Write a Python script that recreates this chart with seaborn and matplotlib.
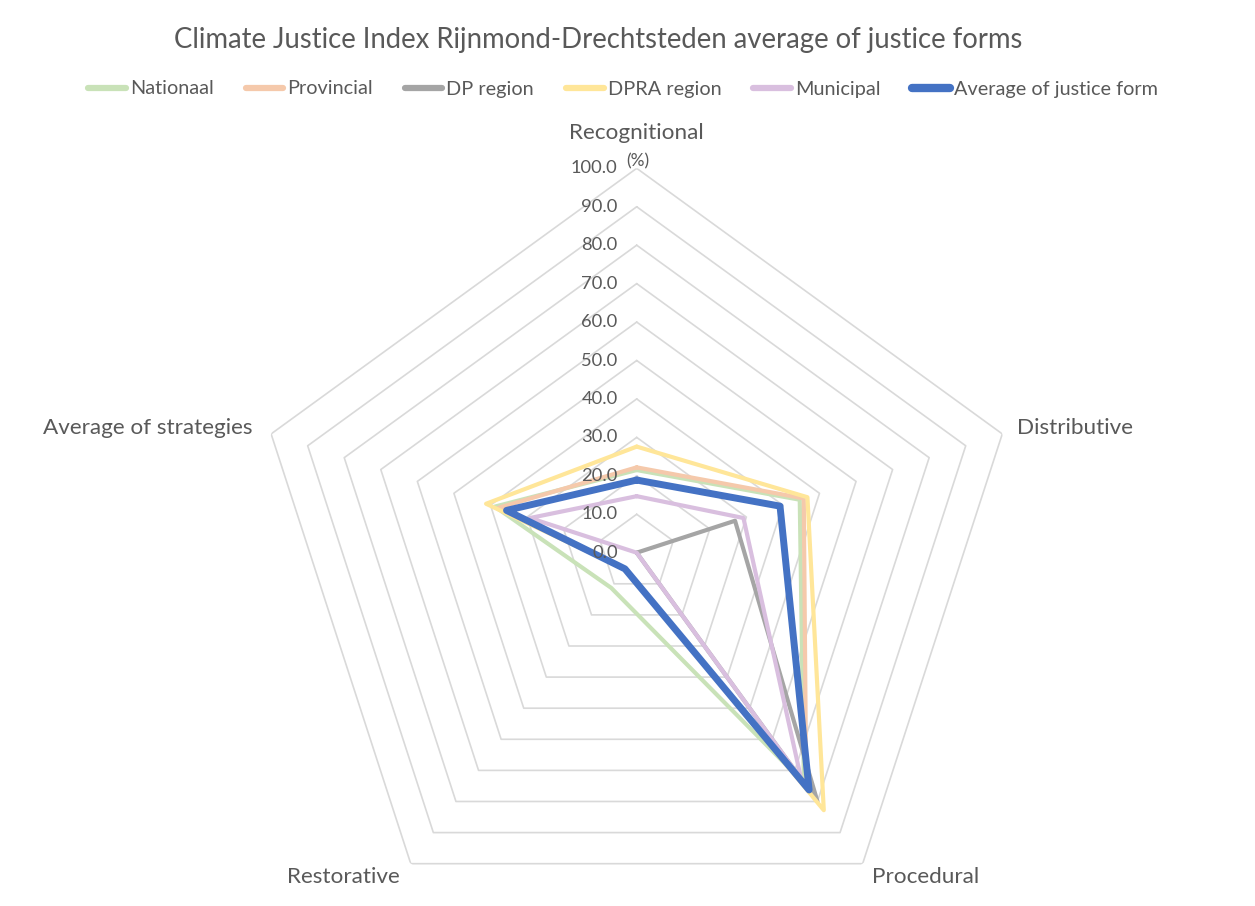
import numpy as np
import pandas as pd
import matplotlib
matplotlib.use("Agg")
import matplotlib.pyplot as plt
import matplotlib.transforms as mtransforms
from matplotlib.lines import Line2D
import seaborn as sns

# ---------------- data ----------------
axes_labels = ["Recognitional", "Distributive", "Procedural", "Restorative", "Average of strategies"]
series_names = ["Nationaal", "Provincial", "DP region", "DPRA region", "Municipal", "Average of justice form"]

nationaal = [21.5, 44.6, 74.0, 11.3, 38.8]
provincial = [22.2, 45.7, 75.0, 5.2, 37.8]
dp_region = [0.0, 26.9, 80.0, 0.0, 0.0]
dpra_region = [27.6, 46.7, 82.8, 5.2, 41.2]
municipal = [14.7, 29.2, 72.8, 0.0, 29.2]
average_justice = [18.9, 39.2, 76.3, 5.2, 35.6]

tick_values = [0, 10, 20, 30, 40, 50, 60, 70, 80, 90, 100]

series_values = [nationaal, provincial, dp_region, dpra_region, municipal, average_justice]
colors = ["#c9e2b8", "#f5c9ab", "#a5a5a5", "#ffe699", "#d9bfdf", "#4472c4"]
widths = [3.0, 3.0, 3.0, 3.0, 3.0, 5.0]

# ---------------- style ----------------
sns.set_style("white")
plt.rcParams['font.family'] = ['Lato', 'DejaVu Sans']
text_color = "#595959"

W, H = 1255, 906
fig = plt.figure(figsize=(W / 100, H / 100), dpi=100)
cx, cy, R = 636.7, 552.7, 384.4
ax = fig.add_axes([(cx - R) / W, (H - cy - R) / H, 2 * R / W, 2 * R / H], projection="polar")
ax.set_theta_zero_location("N")
ax.set_theta_direction(-1)
ax.set_rlim(0, 100)
ax.grid(False)
ax.spines["polar"].set_visible(False)
ax.patch.set_alpha(0)

n = len(axes_labels)
theta = np.linspace(0, 2 * np.pi, n, endpoint=False)
theta_closed = np.append(theta, theta[0])

# pentagonal grid rings
for v in tick_values[1:]:
    ax.plot(theta_closed, [v] * (n + 1), color="#d9d9d9", lw=1.2, zorder=1)

# series
for name, vals, c, lw in zip(series_names, series_values, colors, widths):
    df = pd.DataFrame({"theta": theta_closed, "value": list(vals) + [vals[0]]})
    sns.lineplot(data=df, x="theta", y="value", sort=False, ax=ax, color=c,
                 linewidth=lw, zorder=3, estimator=None)
ax.set_xlabel("")
ax.set_ylabel("")
ax.set_rlim(0, 100)
ax.set_xticks([])
ax.set_yticks([])

# radial tick labels
off = mtransforms.offset_copy(ax.transData, fig=fig, x=-19, y=0, units="dots")
for v in tick_values:
    ax.text(0, v, f"{v:.1f}", transform=off, ha="right", va="center",
            fontsize=13.2, color=text_color, zorder=5)
fig.text(638 / W, 1 - 161 / H, "(%)", ha="center", va="center", fontsize=12.5, color=text_color)

# category labels
label_pos = {
    "Recognitional": (636, 133),
    "Distributive": (1075, 428),
    "Procedural": (926, 877),
    "Restorative": (343, 877),
    "Average of strategies": (148, 428),
}
for lab in axes_labels:
    x, y = label_pos[lab]
    fig.text(x / W, 1 - y / H, lab, ha="center", va="center", fontsize=16.2, color=text_color)

# title
fig.text(598 / W, 1 - 40 / H, "Climate Justice Index Rijnmond-Drechtsteden average of justice forms",
         ha="center", va="center", fontsize=19.8, color=text_color)

# legend
handles = [Line2D([0], [0], color=c, lw=(4.5 if i < 5 else 6), solid_capstyle="round")
           for i, c in enumerate(colors)]
leg = fig.legend(handles, series_names, loc="center", bbox_to_anchor=(623 / W, 1 - 89 / H),
                 ncol=6, frameon=False, fontsize=14.3, handlelength=1.9, handletextpad=0.2,
                 columnspacing=1.6)
for t in leg.get_texts():
    t.set_color(text_color)

fig.savefig("out.png", dpi=100, facecolor="white")
